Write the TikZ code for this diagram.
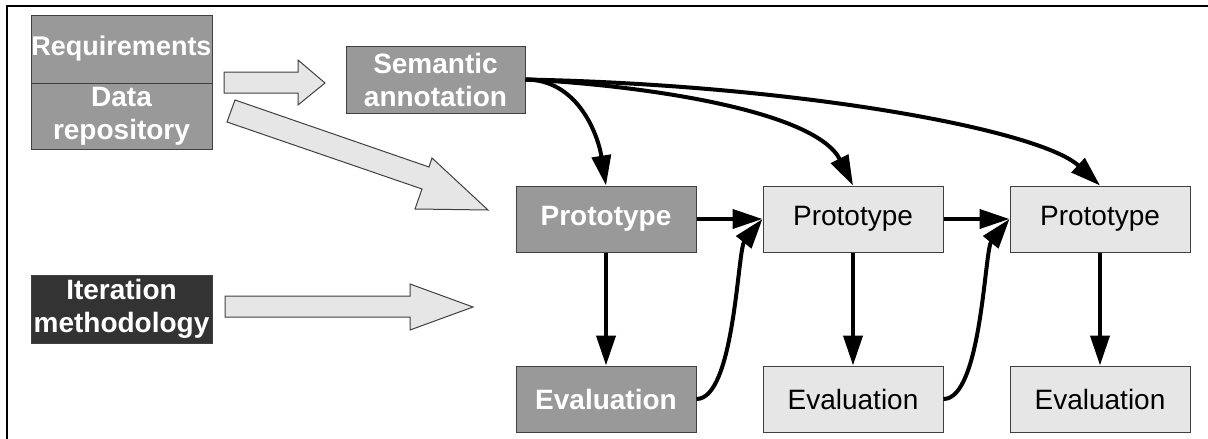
\documentclass[tikz,border=0pt]{standalone}
\usepackage{fontspec}
\setmainfont{Liberation Sans}
\usetikzlibrary{arrows.meta}
\definecolor{midgray}{HTML}{999999}
\definecolor{palegray}{HTML}{E6E6E6}
\definecolor{nearblack}{HTML}{333333}
\definecolor{edgegray}{HTML}{404040}
\begin{document}
\begin{tikzpicture}[x=1pt,y=1pt,
  box/.style={draw=edgegray,line width=1pt,minimum width=180pt,minimum height=66pt,inner sep=0pt,align=center},
  midbox/.style={box,fill=midgray,text=white,font=\bfseries\fontsize{28}{33}\selectfont},
  lightbox/.style={box,fill=palegray,text=black,font=\fontsize{28}{33}\selectfont},
  conn/.style={line width=4pt,-{Triangle[length=30pt,width=19pt]}},
  blockarrow/.style={draw=edgegray,line width=1pt,fill=palegray,line join=miter}]
\useasboundingbox (0,0) rectangle (1208,-439);
\draw[line width=1.5pt] (7,-439) -- (7,-6) -- (1208,-6);

\node[midbox,minimum width=181pt,minimum height=68pt,font=\bfseries\fontsize{27}{33}\selectfont] (req) at (121.5,-49) {Requirements};
\node[midbox,minimum width=181pt,minimum height=66pt] (data) at (121.5,-116) {Data\\repository};
\node[midbox,fill=nearblack,minimum width=181pt,minimum height=68pt] (iter) at (121.5,-309) {Iteration\\methodology};
\node[midbox,minimum width=179pt,minimum height=67pt] (sem) at (435.5,-79.5) {Semantic\\annotation};

\node[midbox] (p1) at (606,-219) {Prototype};
\node[lightbox] (p2) at (853,-219) {Prototype};
\node[lightbox] (p3) at (1100,-219) {Prototype};
\node[midbox] (e1) at (606,-399) {Evaluation};
\node[lightbox] (e2) at (853,-399) {Evaluation};
\node[lightbox] (e3) at (1100,-399) {Evaluation};

% block arrows
\filldraw[blockarrow] (224,-72) -- (298,-72) -- (298,-60) -- (325,-83) -- (298,-105) -- (298,-93) -- (224,-93) -- cycle;
\filldraw[blockarrow] (235,-100) -- (429,-167) -- (432,-158) -- (488,-210) -- (415,-209) -- (422,-189) -- (227,-122) -- cycle;
\filldraw[blockarrow] (225,-296) -- (410,-296) -- (410,-284) -- (473,-307) -- (410,-330) -- (410,-317) -- (225,-317) -- cycle;

% connectors
\draw[conn] (sem.east) to[out=0,in=99] (p1.north);
\draw[conn] (sem.east) .. controls (640,-85) and (815,-110) .. (p2.north);
\draw[conn] (sem.east) .. controls (800,-85) and (1040,-130) .. (p3.north);

\draw[conn] (p1.south) -- (e1.north);
\draw[conn] (p2.south) -- (e2.north);
\draw[conn] (p3.south) -- (e3.north);

\draw[conn] (p1.east) -- (p2.west);
\draw[conn] (p2.east) -- (p3.west);

\draw[conn] (e1.east) .. controls +(38,0) and +(-25,-31) .. (p2.west);
\draw[conn] (e2.east) .. controls +(38,0) and +(-25,-31) .. (p3.west);
\end{tikzpicture}
\end{document}
